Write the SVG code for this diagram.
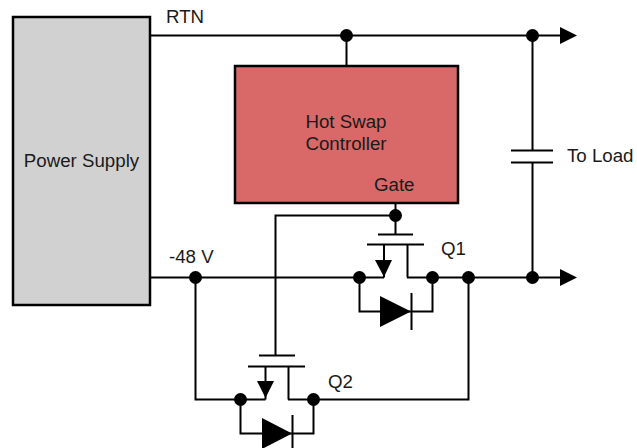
<svg xmlns="http://www.w3.org/2000/svg" width="637" height="448" viewBox="0 0 637 448">
<style>
.w{fill:none;stroke:#000;stroke-width:2}
.d{fill:#000;stroke:none}
text{font-family:"Liberation Sans",Arial,sans-serif;font-size:18.700px;fill:#1a1a1a}
</style>
<defs>
<circle id="dot" r="6.500" class="d"/>
<polygon id="arrow" points="0,-8.500 17,0 0,8.500" class="d"/>
</defs>
<rect width="637" height="448" fill="#fff"/>
<g id="connectors">
<path class="w" d="M151 35.500H561M151 277.500H384M407 277.500H561M346.500 35.500V66M532.500 35.500V150M532.500 163V277.500"/>
<path class="w" d="M511 150.500H553M511 162.500H553"/>
<path class="w" d="M395.500 204V234M395.500 215.500H275.500V355"/>
<path class="w" d="M195.500 277.500V399.500H265.500M468.500 277.500V399.500H288"/>
<use href="#arrow" x="560" y="35.500"/>
<use href="#arrow" x="560" y="277.500"/>
<use href="#dot" x="346.500" y="35.500"/>
<use href="#dot" x="532.500" y="35.500"/>
<use href="#dot" x="532.500" y="277.500"/>
<use href="#dot" x="395.500" y="215.500"/>
<use href="#dot" x="195.500" y="277.500"/>
<use href="#dot" x="468.500" y="277.500"/>
</g>
<g id="power-supply">
<rect x="13" y="17" width="137" height="288" fill="#d1d1d1" stroke="#000" stroke-width="2.500"/>
<text x="81.500" y="167" text-anchor="middle">Power Supply</text>
</g>
<g id="controller">
<rect x="235" y="66" width="223" height="137" fill="#d96868" stroke="#000" stroke-width="2.500"/>
<text x="346" y="128" text-anchor="middle">Hot Swap</text>
<text x="346" y="150" text-anchor="middle">Controller</text>
<text x="374" y="191">Gate</text>
</g>
<g id="q1">
<path class="w" d="M384 277.500V244M367 244.500H424M378 234.500H413M407.500 244V277.500M359.500 277.500V311.500H432.500V277.500M411.500 293V330"/>
<polygon class="d" points="375,260 392,260 384,277"/>
<polygon class="d" points="380,296 380,327 411,311.500"/>
<use href="#dot" x="359.500" y="277.500"/>
<use href="#dot" x="432.500" y="277.500"/>
<text x="441" y="255">Q1</text>
</g>
<g id="q2">
<path class="w" d="M265.500 399.500V366M248 366.500H305M259 355.500H295M288.500 366V399.500M240.500 399.500V433.500H313.500V399.500M292.500 415V448"/>
<polygon class="d" points="257,381 274,381 265.500,398"/>
<polygon class="d" points="262,418 262,449 292,433.500"/>
<use href="#dot" x="240.500" y="399.500"/>
<use href="#dot" x="313.500" y="399.500"/>
<text x="328" y="388">Q2</text>
</g>
<g id="labels">
<text x="166" y="23">RTN</text>
<text x="169" y="263">-48 V</text>
<text x="567" y="162">To Load</text>
</g>
</svg>
